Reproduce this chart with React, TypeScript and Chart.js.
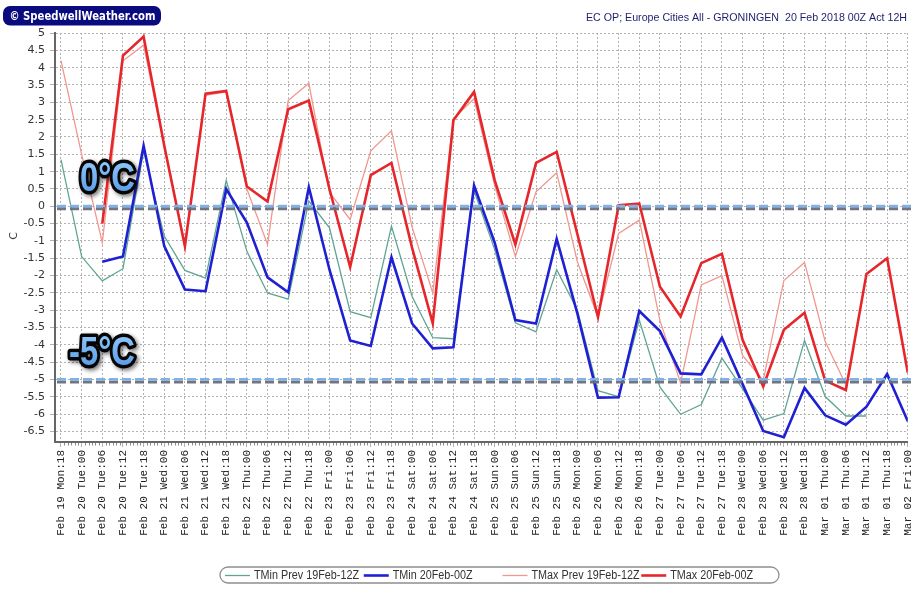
import React, { useEffect, useRef } from "react";
import { Chart, registerables } from "chart.js";

Chart.register(...registerables);

const categories = [
  "Feb 19 Mon:18",
  "Feb 20 Tue:00", "Feb 20 Tue:06", "Feb 20 Tue:12", "Feb 20 Tue:18",
  "Feb 21 Wed:00", "Feb 21 Wed:06", "Feb 21 Wed:12", "Feb 21 Wed:18",
  "Feb 22 Thu:00", "Feb 22 Thu:06", "Feb 22 Thu:12", "Feb 22 Thu:18",
  "Feb 23 Fri:00", "Feb 23 Fri:06", "Feb 23 Fri:12", "Feb 23 Fri:18",
  "Feb 24 Sat:00", "Feb 24 Sat:06", "Feb 24 Sat:12", "Feb 24 Sat:18",
  "Feb 25 Sun:00", "Feb 25 Sun:06", "Feb 25 Sun:12", "Feb 25 Sun:18",
  "Feb 26 Mon:00", "Feb 26 Mon:06", "Feb 26 Mon:12", "Feb 26 Mon:18",
  "Feb 27 Tue:00", "Feb 27 Tue:06", "Feb 27 Tue:12", "Feb 27 Tue:18",
  "Feb 28 Wed:00", "Feb 28 Wed:06", "Feb 28 Wed:12", "Feb 28 Wed:18",
  "Mar 01 Thu:00", "Mar 01 Thu:06", "Mar 01 Thu:12", "Mar 01 Thu:18",
  "Mar 02 Fri:00",
];

const tminPrev = [
  1.35, -1.45, -2.15, -1.8, 1.6, -0.86, -1.85, -2.07, 0.75, -1.3,
  -2.5, -2.68, 0.15, -0.62, -3.04, -3.21, -0.57, -2.6, -3.79, -3.82,
  0.45, -1.25, -3.36, -3.62, -1.83, -2.99, -5.32, -5.49, -3.28, -5.22,
  -6.0, -5.72, -4.38, -5.27, -6.17, -5.98, -3.87, -5.49, -6.05, -6.05,
  null, null,
];

const tmin = [
  null, null, -1.6, -1.45, 1.75, -1.15, -2.4, -2.45, 0.5, -0.47,
  -2.05, -2.48, 0.55, -1.83, -3.87, -4.03, -1.47, -3.38, -4.1, -4.07,
  0.6, -1.05, -3.28, -3.38, -0.94, -3.09, -5.52, -5.51, -3.02, -3.6,
  -4.82, -4.85, -3.79, -5.13, -6.48, -6.66, -5.24, -6.03, -6.3, -5.78,
  -4.84, -6.2,
];

const tmaxPrev = [
  4.2, 1.5, -1.05, 4.2, 4.65, 1.75, -1.1, 3.2, 3.3, 0.5,
  -1.1, 3.05, 3.55, 0.4, -0.38, 1.6, 2.18, -0.6, -2.5, 2.53,
  3.1, 0.6, -1.45, 0.42, 0.97, -1.6, -3.2, -0.78, -0.4, -3.3,
  -5.1, -2.27, -2.0, -4.3, -5.03, -2.14, -1.62, -3.9, -5.15, null,
  null, null,
];

const tmax = [
  null, null, -0.5, 4.35, 4.9, 1.75, -1.15, 3.25, 3.33, 0.57,
  0.14, 2.8, 3.05, 0.5, -1.75, 0.9, 1.25, -1.2, -3.38, 2.48,
  3.3, 0.75, -1.1, 1.25, 1.57, -0.8, -3.2, 0.03, 0.08, -2.32,
  -3.18, -1.64, -1.37, -3.85, -5.2, -3.56, -3.07, -5.03, -5.3, -1.95,
  -1.5, -4.8,
];

const seriesNames = [
  "TMin Prev 19Feb-12Z",
  "TMin 20Feb-00Z",
  "TMax Prev 19Feb-12Z",
  "TMax 20Feb-00Z",
];

const yMin = -6.8;
const yMax = 5;
const yStep = 0.5;

const referenceLines = [0, -5];
const referenceLabels = ["0°C", "-5°C"];

const titleText = "EC OP; Europe Cities All - GRONINGEN  20 Feb 2018 00Z Act 12H";
const badgeText = "© SpeedwellWeather.com";
const yAxisTitle = "C";

function fitText(ctx: CanvasRenderingContext2D, text: string, x: number, y: number, targetW: number, align: "left" | "right") {
  const w = ctx.measureText(text).width;
  const s = targetW / w;
  ctx.save();
  ctx.translate(x, y);
  ctx.scale(s, 1);
  ctx.textAlign = align;
  ctx.fillText(text, 0, 0);
  ctx.restore();
}

const overlayPlugin = {
  id: "overlay",
  afterDraw(chart: any) {
    const { ctx, chartArea, scales } = chart;
    const ys = scales.y;
    const xs = scales.x;
    ctx.save();

    // minor ticks under x axis
    ctx.strokeStyle = "#8c8c8c";
    ctx.lineWidth = 1;
    const b = chartArea.bottom;
    for (let i = 0; i < categories.length - 1; i++) {
      for (let k = 1; k < 6; k++) {
        const px = Math.round(xs.getPixelForValue(i + k / 6)) + 0.5;
        ctx.beginPath();
        ctx.moveTo(px, b + 1);
        ctx.lineTo(px, b + 3.5);
        ctx.stroke();
      }
    }

    // reference dashed lines
    referenceLines.forEach((v) => {
      const py = ys.getPixelForValue(v);
      ctx.setLineDash([9, 4]);
      ctx.lineWidth = 3;
      ctx.strokeStyle = "rgba(105,110,120,0.95)";
      ctx.beginPath();
      ctx.moveTo(chartArea.left + 2, py + 2.5);
      ctx.lineTo(chartArea.right + 6, py + 2.5);
      ctx.stroke();
      ctx.lineWidth = 2.6;
      ctx.strokeStyle = "#7fb2ea";
      ctx.beginPath();
      ctx.moveTo(chartArea.left + 2, py - 0.3);
      ctx.lineTo(chartArea.right + 6, py - 0.3);
      ctx.stroke();
    });
    ctx.setLineDash([]);

    // big labels
    referenceLines.forEach((v, k) => {
      const py = ys.getPixelForValue(v);
      const t = referenceLabels[k];
      ctx.save();
      ctx.translate(chartArea.left + 80, py - 15);
      ctx.scale(0.8, 1);
      ctx.font = 'bold 41px "Liberation Sans"';
      ctx.textAlign = "right";
      ctx.textBaseline = "alphabetic";
      ctx.lineJoin = "round";
      ctx.shadowColor = "rgba(0,0,0,0.55)";
      ctx.shadowBlur = 4;
      ctx.shadowOffsetX = 2;
      ctx.shadowOffsetY = 2;
      ctx.lineWidth = 7;
      ctx.strokeStyle = "#050505";
      ctx.strokeText(t, 0, 0);
      ctx.shadowColor = "transparent";
      const g = ctx.createLinearGradient(0, -30, 0, 0);
      g.addColorStop(0, "#8ec6fa");
      g.addColorStop(1, "#5d9fe8");
      ctx.fillStyle = g;
      ctx.fillText(t, 0, 0);
      ctx.restore();
    });

    // badge
    ctx.fillStyle = "#0b0b80";
    ctx.beginPath();
    (ctx as any).roundRect(3, 6, 158, 19.5, 7);
    ctx.fill();
    ctx.fillStyle = "#ffffff";
    ctx.font = 'bold 11.5px "DejaVu Sans"';
    ctx.textBaseline = "alphabetic";
    fitText(ctx, badgeText, 9.5, 19.5, 146, "left");

    // title
    ctx.fillStyle = "#1e1e6e";
    ctx.font = '11.5px "Liberation Sans"';
    fitText(ctx, titleText, 907, 21, 321, "right");

    // y axis title
    ctx.save();
    ctx.translate(16.5, 236);
    ctx.rotate(-Math.PI / 2);
    ctx.fillStyle = "#333";
    ctx.font = '11px "DejaVu Sans"';
    ctx.textAlign = "center";
    ctx.fillText(yAxisTitle, 0, 0);
    ctx.restore();

    // legend box
    const boxL = 220, boxR = 779, boxT = 567, boxB = 583;
    ctx.strokeStyle = "#8f8f8f";
    ctx.lineWidth = 1.3;
    ctx.beginPath();
    (ctx as any).roundRect(boxL, boxT, boxR - boxL, boxB - boxT, 8);
    ctx.stroke();
    const colW = (boxR - boxL - 4) / chart.data.datasets.length;
    ctx.font = '12px "Liberation Sans"';
    ctx.textAlign = "left";
    ctx.textBaseline = "middle";
    const sx = 105 / ctx.measureText(chart.data.datasets[0].label).width;
    const cy = (boxT + boxB) / 2 + 0.5;
    chart.data.datasets.forEach((ds: any, i: number) => {
      const x0 = boxL + 5 + i * colW;
      ctx.strokeStyle = ds.borderColor;
      ctx.lineWidth = ds.borderWidth;
      ctx.beginPath();
      ctx.moveTo(x0, cy);
      ctx.lineTo(x0 + 25, cy);
      ctx.stroke();
      ctx.fillStyle = "#333";
      ctx.save();
      ctx.translate(x0 + 29, cy);
      ctx.scale(sx, 1);
      ctx.fillText(ds.label, 0, 0);
      ctx.restore();
    });

    ctx.restore();
  },
};

export default function App() {
  const ref = useRef<HTMLCanvasElement>(null);
  useEffect(() => {
    const canvas = ref.current;
    if (!canvas) return;
    const chart = new Chart(canvas, {
      type: "line",
      data: {
        labels: categories.map((_, i) => i),
        datasets: [
          { label: seriesNames[0], data: tminPrev, borderColor: "#5fa595", borderWidth: 1.3, order: 1 },
          { label: seriesNames[1], data: tmin, borderColor: "#1f1fd4", borderWidth: 2.6, order: 0 },
          { label: seriesNames[2], data: tmaxPrev, borderColor: "#f2978f", borderWidth: 1.3, order: 1 },
          { label: seriesNames[3], data: tmax, borderColor: "#e6262a", borderWidth: 2.6, order: 0 },
        ],
      },
      options: {
        animation: false,
        responsive: false,
        events: [],
        layout: { padding: { top: 33, right: 11, bottom: 0, left: 0 } },
        elements: {
          point: { radius: 0 },
          line: { tension: 0, borderJoinStyle: "miter", fill: false },
        },
        plugins: {
          legend: { display: false },
          tooltip: { enabled: false },
          title: { display: false },
        },
        scales: {
          x: {
            type: "linear",
            min: -0.29,
            max: categories.length - 1,
            afterFit: (s: any) => {
              s.height = 152;
            },
            ticks: {
              stepSize: 1,
              includeBounds: false,
              autoSkip: false,
              minRotation: 90,
              maxRotation: 90,
              padding: 3,
              color: "#222",
              font: { family: '"Liberation Mono"', size: 11 },
              callback: (v: any) => categories[v as number] ?? "",
            },
            grid: { color: "#b2b2b2", lineWidth: 1, tickLength: 5 },
            border: { color: "#666", width: 2, dash: [2, 2] },
          },
          y: {
            min: yMin,
            max: yMax,
            afterFit: (s: any) => {
              s.width = 55;
            },
            ticks: {
              stepSize: yStep,
              includeBounds: false,
              padding: 5,
              color: "#333",
              font: { family: '"DejaVu Sans"', size: 11 },
              callback: (v: any) => String(Math.round(Number(v) * 10) / 10),
            },
            grid: { color: "#b2b2b2", lineWidth: 1, tickLength: 5 },
            border: { color: "#666", width: 2, dash: [2, 2] },
          },
        },
      },
      plugins: [overlayPlugin],
    });
    return () => chart.destroy();
  }, []);

  return (
    <div style={{ position: "fixed", left: 0, top: 0, width: 924, height: 594, background: "#fff" }}>
      <canvas ref={ref} width={924} height={594} style={{ display: "block", width: 924, height: 594 }} />
    </div>
  );
}
